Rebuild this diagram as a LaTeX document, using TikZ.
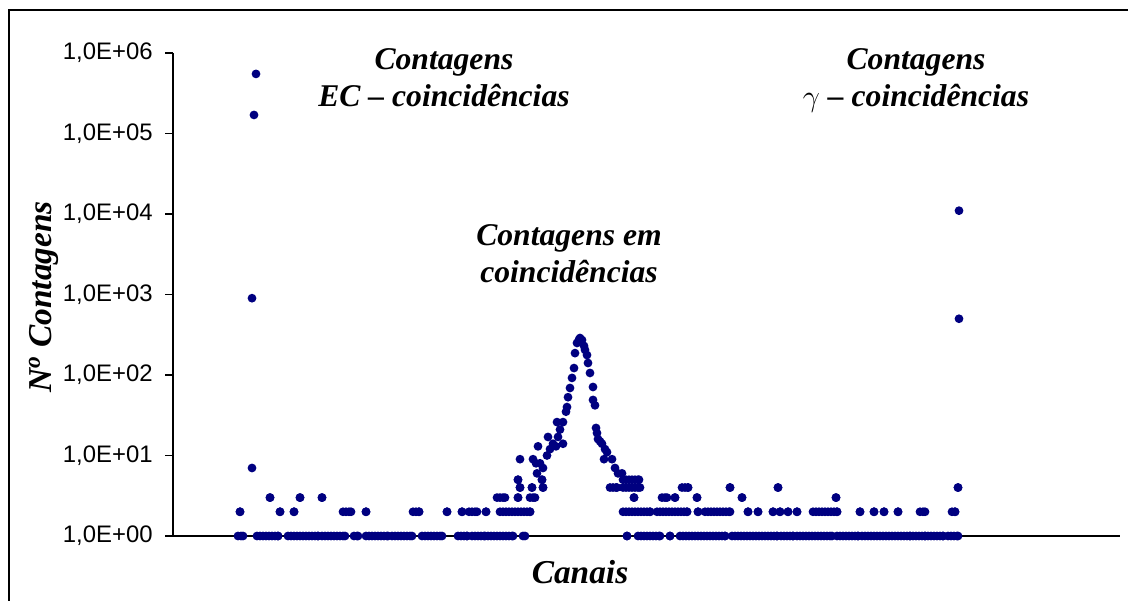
\documentclass[tikz,border=0pt]{standalone}
\usepackage{fontspec}
\setmainfont{Liberation Serif}
\newfontfamily\arialfont{Liberation Sans}
\definecolor{dotblue}{RGB}{0,0,128}
% y of a count on the log axis (one decade = 80.5)
\newcommand{\ylog}[1]{536-80.5*log10(#1)}
% a run of dots from x=#1 to x=#2 at count #3
\newcommand{\dotrun}[3]{%
  \pgfmathtruncatemacro{\nrun}{(#2-#1)/3}%
  \foreach \k in {0,...,\nrun}{\fill[cdot] ({#1+3*\k},{\ylog{#3}}) circle (0.088cm);}%
  \fill[cdot] (#2,{\ylog{#3}}) circle (0.088cm);}

\begin{document}
\begin{tikzpicture}[x=0.02cm, y=-0.02cm]
        \tikzset{cdot/.style={fill=dotblue},
          ticklabel/.style={anchor=east, inner sep=0pt, font=\arialfont\fontsize{13.6}{16}\selectfont},
          title/.style={align=center, inner sep=0pt, font=\bfseries\itshape\fontsize{18}{21}\selectfont},
          axislabel/.style={inner sep=0pt, font=\bfseries\itshape\fontsize{19}{22}\selectfont}}
        \useasboundingbox (0,0) rectangle (1128,601);
        \draw[line width=0.6pt] (1128,10) -- (9,10) -- (9,601);
        % axes
        \coordinate (O) at (173,536);
        \coordinate (Ytop) at (173,53);
        \coordinate (Xend) at (1120,536);
        \draw[line width=0.6pt] (Ytop) -- (O) -- (Xend);
        \foreach \k in {0,...,6}{
          \draw[line width=0.6pt] (165,{536-80.5*\k}) -- (173,{536-80.5*\k});
          \node[ticklabel] (tick\k) at (153,{536-80.5*\k}) {1,0E+0\k};
        }
        % data
        \foreach \a/\b in {238/243, 257/278, 288/318, 322/345, 354/358, 366/388, 392/412,
            422/442, 458/467, 472/485, 488/513, 523/525, 627/627, 638/660, 670/670, 680/725,
            732/777, 781/793, 797/832, 837/858, 862/910, 913/925, 928/943, 948/958}
          {\dotrun{\a}{\b}{1}}
        \foreach \a/\b in {240/240, 280/280, 294/294, 343/351, 366/366, 413/419, 447/447,
            462/462, 469/477, 486/486, 500/530, 623/650, 657/687, 698/698, 705/730, 748/748,
            758/758, 773/773, 780/780, 788/788, 797/797, 813/837, 860/860, 874/874, 884/884,
            898/898, 920/925, 952/955}
          {\dotrun{\a}{\b}{2}}
        \foreach \a/\b in {270/270, 300/300, 322/322, 497/505, 518/518, 530/535, 634/634,
            662/667, 675/675, 697/697, 742/742, 836/836}
          {\dotrun{\a}{\b}{3}}
        \foreach \a/\b in {520/520, 532/532, 543/543, 610/617, 623/640, 682/688, 730/730,
            778/778, 958/958}
          {\dotrun{\a}{\b}{4}}
        \foreach \a/\b in {518/518, 542/542, 623/639}
          {\dotrun{\a}{\b}{5}}
        \foreach \x/\v in {252/7, 252/900, 959/500, 520/9, 533/9, 536/8, 537/6, 538/13, 540/8,
            543/7, 547/10, 548/17, 550/12, 553/14, 556/13, 557/26, 558/17, 560/21, 563/26,
            563/14, 566/35, 567/40, 568/53, 570/69, 572/92, 574/122, 575/187, 577/250,
            579/275, 580/288, 582/272, 584/230, 585/205, 587/177, 588/141, 590/106, 593/71,
            593/49, 595/42, 596/22, 597/19, 598/16, 600/15, 602/14, 605/12, 607/11, 604/9,
            612/9, 615/7, 618/6, 622/6}
          \fill[cdot] (\x,{\ylog{\v}}) circle (0.088cm);
        \fill[cdot] (254,{536-80.5*(5+log10(1.7))}) circle (0.088cm);
        \fill[cdot] (256,{536-80.5*(5+log10(5.5))}) circle (0.088cm);
        \fill[cdot] (959,{536-80.5*(4+log10(1.1))}) circle (0.088cm);
        % labels
        \node[title, anchor=north] (ectitle) at (444,48) {Contagens\\EC – coincidências};
        \node[title, anchor=north] (gammatitle) at (916,48) {Contagens\\$\gamma$ – coincidências};
        \node[title, anchor=north] (peaktitle) at (569,224) {Contagens em\\coincidências};
        \node[axislabel, anchor=base] (xlabel) at (580,583) {Canais};
        \node[axislabel, anchor=base, rotate=90] (ylabel) at (51,297) {N\textsuperscript{o} Contagens};
    \end{tikzpicture}
\end{document}
